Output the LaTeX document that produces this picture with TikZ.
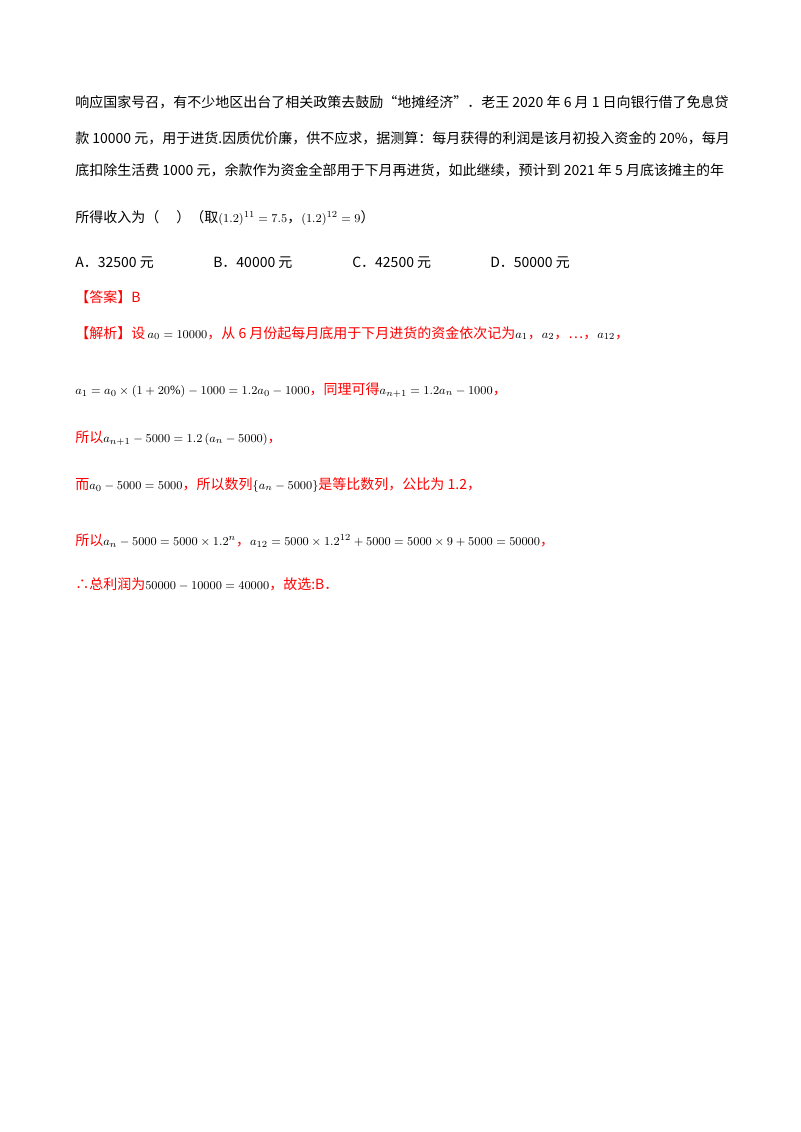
\documentclass[tikz,border=0pt]{standalone}
\usepackage{amsmath}
\usepackage{fontspec}
\setmainfont{Liberation Serif}
\newfontfamily\cjk{Noto Sans CJK SC}
\definecolor{ans}{RGB}{255,0,0}
\newcommand{\mm}[1]{{\color{black}\fontsize{9.5pt}{11pt}\selectfont$#1$}}
\begin{document}
\begin{tikzpicture}[x=0.75pt,y=-0.75pt,
  txt/.style={anchor=west,inner sep=0pt,font=\cjk\fontsize{10.5pt}{12pt}\selectfont},
  red/.style={txt,text=ans}]
\useasboundingbox (0,0) rectangle (800,1132);
\node[txt] (l1) at (75,102) {响应国家号召，有不少地区出台了相关政策去鼓励“地摊经济”．老王 2020 年 6 月 1 日向银行借了免息贷};
\node[txt] (l2) at (75,138) {款 10000 元，用于进货.因质优价廉，供不应求，据测算：每月获得的利润是该月初投入资金的 20\%，每月};
\node[txt] (l3) at (75,170) {底扣除生活费 1000 元，余款作为资金全部用于下月再进货，如此继续，预计到 2021 年 5 月底该摊主的年};
\node[txt] (l4) at (75,218) {所得收入为（\quad\ ）（取\mm{(1.2)^{11}=7.5}，\mm{(1.2)^{12}=9}）};
\node[txt] (oa) at (75,263) {A．32500 元};
\node[txt] (ob) at (213,263) {B．40000 元};
\node[txt] (oc) at (352,263) {C．42500 元};
\node[txt] (od) at (490,263) {D．50000 元};
\node[red] (ans) at (75,297) {【答案】B};
\node[red] (j1) at (75,333) {【解析】设\,\mm{a_0=10000}，从 6 月份起每月底用于下月进货的资金依次记为\mm{a_1}，\mm{a_2}，…，\mm{a_{12}}，};
\node[red] (j2) at (75,390) {\mm{a_1=a_0\times(1+20\%)-1000=1.2a_0-1000}，同理可得\mm{a_{n+1}=1.2a_n-1000}，};
\node[red] (j3) at (75,438) {所以\mm{a_{n+1}-5000=1.2\left(a_n-5000\right)}，};
\node[red] (j4) at (75,485) {而\mm{a_0-5000=5000}，所以数列\mm{\{a_n-5000\}}是等比数列，公比为 1.2，};
\node[red] (j5) at (75,541) {所以\mm{a_n-5000=5000\times1.2^n}，\mm{a_{12}=5000\times1.2^{12}+5000=5000\times9+5000=50000}，};
\node[red] (j6) at (75,584) {∴总利润为\mm{50000-10000=40000}，故选:B．};
\end{tikzpicture}
\end{document}
